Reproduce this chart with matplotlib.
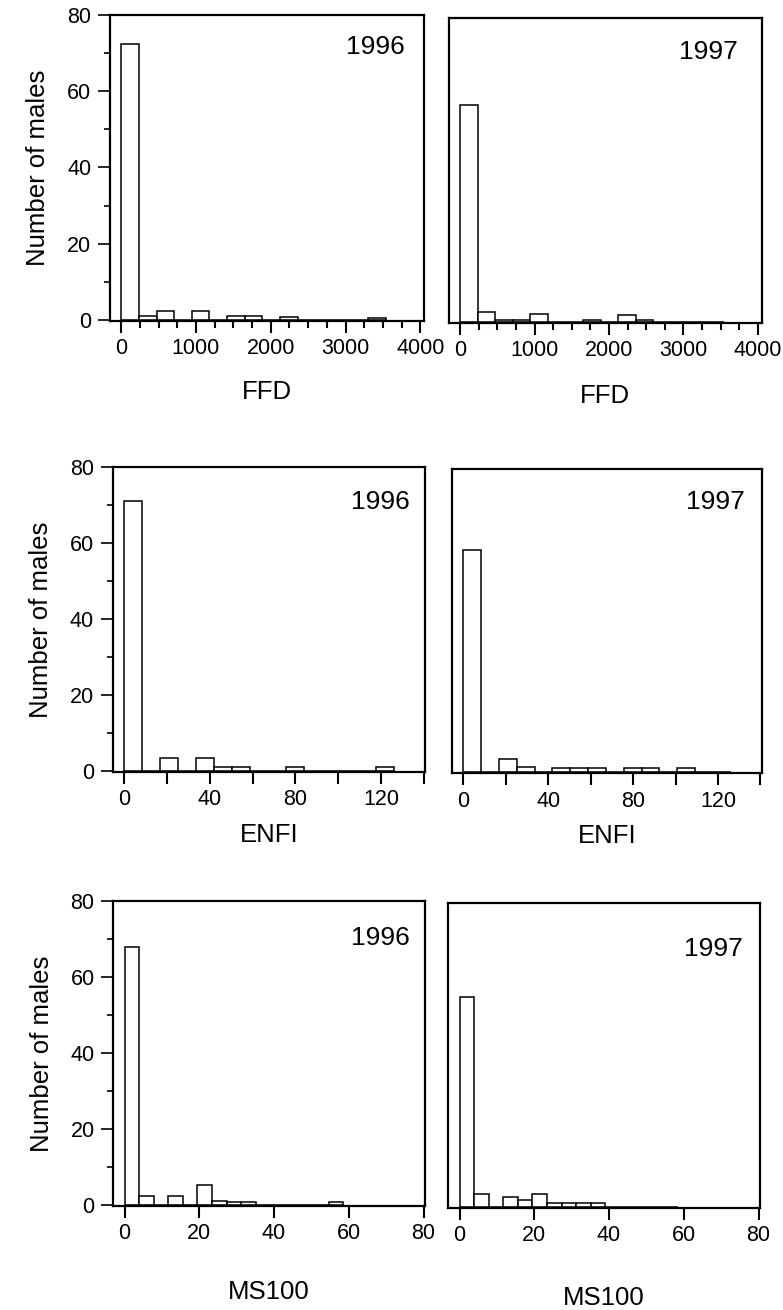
import numpy as np
import matplotlib
matplotlib.use("Agg")
import matplotlib.pyplot as plt
from matplotlib.ticker import MultipleLocator, FixedLocator

plt.rcParams['font.family'] = ['Liberation Sans', 'DejaVu Sans']

# bin widths (15 bins per variable, shared by both years)
ffd_width = 236
enfi_width = 8.4
ms_width = 3.9

# counts per bin
ffd_1996 = [72.5, 1, 2.2, 0, 2.2, 0, 0.9, 0.9, 0, 0.8, 0, 0, 0, 0, 0.6]
ffd_1997 = [57, 2.7, 0.6, 0.6, 2, 0, 0, 0.6, 0, 1.8, 0.5, 0, 0, 0, 0]
enfi_1996 = [71, 0, 3.4, 0, 3.4, 1.1, 1.1, 0, 0, 1.1, 0, 0, 0, 0, 1]
enfi_1997 = [58.5, 0, 3.5, 1.3, 0, 1.1, 1.1, 1.1, 0, 1.1, 1.1, 0, 1.1, 0, 0]
ms_1996 = [68, 2.3, 0, 2.3, 0, 5.1, 0.9, 0.7, 0.7, 0, 0, 0, 0, 0, 0.7]
ms_1997 = [55.3, 3.2, 0, 2.5, 1.75, 3.2, 0.9, 1.05, 1.05, 0.9, 0, 0, 0, 0, 0]

years = ["1996", "1997"]
xlabels = ["FFD", "ENFI", "MS100"]
ffd_ticks = [0, 1000, 2000, 3000, 4000]
enfi_ticks = [0, 20, 40, 60, 80, 100, 120, 140]
enfi_ticklabels = ["0", "", "40", "", "80", "", "120", ""]
ms_ticks = [0, 20, 40, 60, 80]

W, H = 783, 1310
fig = plt.figure(figsize=(W / 100, H / 100), dpi=100)

# panel boxes in pixels: left, right, top, bottom
boxes = [
    [(110, 424, 15, 321), (449, 761.5, 18, 323)],
    [(112.7, 425, 467, 772), (451.7, 761.7, 469, 773.3)],
    [(113.3, 425, 901, 1206), (448.3, 760, 903, 1207.7)],
]
rows = [
    (ffd_width, [ffd_1996, ffd_1997], (-150, 4050)),
    (enfi_width, [enfi_1996, enfi_1997], (-5.5, 140.6)),
    (ms_width, [ms_1996, ms_1997], (-3, 80.4)),
]
labelpads = [(15, 16), (9, 9), (26, 29)]
year_y = [(0.895, 0.89), (0.885, 0.89), (0.88, 0.85)]
year_x = [(0.94, 0.925), (0.95, 0.945), (0.95, 0.945)]

for r in range(3):
    width, data, xlim = rows[r]
    for c in range(2):
        l, rr, t, b = boxes[r][c]
        ax = fig.add_axes([l / W, 1 - b / H, (rr - l) / W, (b - t) / H])
        counts = data[c]
        edges = np.arange(len(counts)) * width
        ax.bar(edges, counts, width=width, align='edge', color='white',
               edgecolor='black', linewidth=1.1)
        ax.set_xlim(*xlim)
        ax.set_ylim(-0.3, 80)
        for s in ax.spines.values():
            s.set_linewidth(1.6)

        if r == 0:
            ax.xaxis.set_major_locator(FixedLocator(ffd_ticks))
            ax.xaxis.set_minor_locator(MultipleLocator(250))
        elif r == 1:
            ax.set_xticks(enfi_ticks)
            ax.set_xticklabels(enfi_ticklabels)
        else:
            ax.set_xticks(ms_ticks)
        ax.tick_params(axis='x', which='major', direction='out', length=8.5,
                       width=1.5, labelsize=15.5, pad=4)
        ax.tick_params(axis='x', which='minor', direction='out', length=5,
                       width=1.5)

        if c == 0:
            ax.set_yticks([0, 20, 40, 60, 80])
            ax.yaxis.set_minor_locator(MultipleLocator(10))
            ax.tick_params(axis='y', which='major', direction='out', length=8.5,
                           width=1.2, labelsize=15.5, pad=5)
            ax.tick_params(axis='y', which='minor', direction='out', length=4,
                           width=1.2)
            ax.set_ylabel("Number of males", fontsize=18.5, labelpad=12)
        else:
            ax.set_yticks([])

        ax.set_xlabel(xlabels[r], fontsize=18.5, labelpad=labelpads[r][c])
        ax.text(year_x[r][c], year_y[r][c], years[c], transform=ax.transAxes,
                ha='right', va='center', fontsize=19)

fig.savefig("out.png", dpi=100)
